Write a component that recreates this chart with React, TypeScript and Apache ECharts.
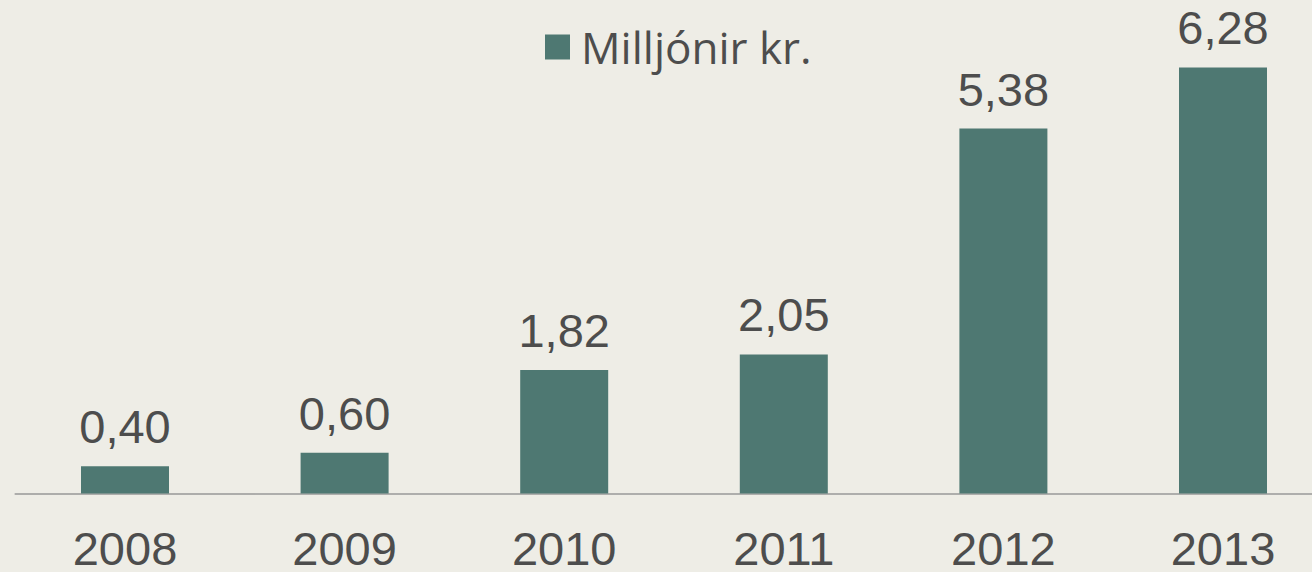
import React, { useEffect, useRef } from "react";
import * as echarts from "echarts";

const years = ["2008", "2009", "2010", "2011", "2012", "2013"];
const values = [0.4, 0.6, 1.82, 2.05, 5.38, 6.28];
const seriesName = "Milljónir kr.";

export default function App() {
  const ref = useRef<HTMLDivElement>(null);
  useEffect(() => {
    document.body.style.margin = "0";
    const chart = echarts.init(ref.current!, null, { renderer: "svg" });
    chart.setOption({
      animation: false,
      backgroundColor: "#EEEDE6",
      textStyle: { fontFamily: "Liberation Sans" },
      legend: {
        data: [seriesName],
        left: 540,
        top: 20,
        icon: "rect",
        itemWidth: 25,
        itemHeight: 25,
        textStyle: {
          fontFamily: "Open Sans",
          fontSize: 44,
          color: "#4D4D4D",
          padding: [0, 0, 0, 6],
        },
      },
      grid: {
        left: 15.2,
        width: 1317.6,
        top: 0,
        bottom: 78.5,
        containLabel: false,
        outerBoundsMode: "none",
      },
      xAxis: {
        type: "category",
        data: years,
        axisLine: { lineStyle: { color: "#989898", width: 1.5 } },
        axisTick: { show: false },
        axisLabel: {
          fontSize: 47,
          lineHeight: 36,
          color: "#4D4D4D",
          margin: 37,
          fontFamily: "Liberation Sans",
        },
      },
      yAxis: {
        type: "value",
        min: 0,
        max: 7.275,
        show: false,
        splitLine: { show: false },
      },
      series: [
        {
          name: seriesName,
          type: "bar",
          data: values,
          barWidth: 88,
          itemStyle: { color: "#4E7872" },
          label: {
            show: true,
            position: "top",
            distance: 16,
            fontSize: 47,
            color: "#4D4D4D",
            fontFamily: "Liberation Sans",
            formatter: (p: any) => p.value.toFixed(2).replace(".", ","),
          },
        },
      ],
    });
    return () => chart.dispose();
  }, []);
  return <div ref={ref} style={{ width: 1312, height: 572 }} />;
}
